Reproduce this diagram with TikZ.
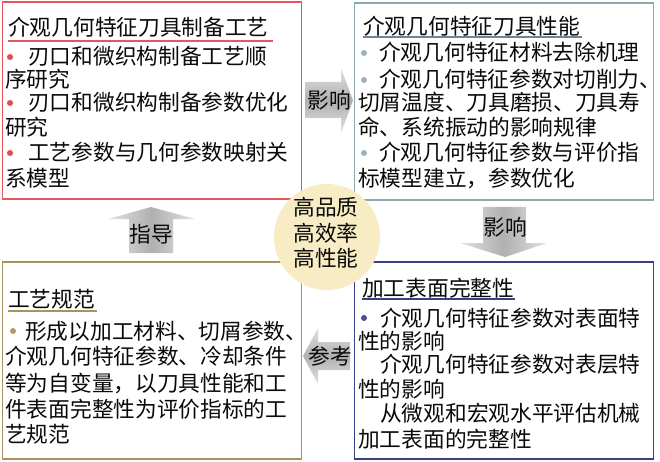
\documentclass[tikz,border=0pt]{standalone}
\usepackage{fontspec}
\newfontfamily\cjk{Noto Sans CJK SC}
\definecolor{cRed}{HTML}{E4575C}
\definecolor{cTeal}{HTML}{8EA9AE}
\definecolor{cTealDark}{HTML}{6C8793}
\definecolor{cTan}{HTML}{A8925E}
\definecolor{cNavy}{HTML}{3B3F86}
\definecolor{bRed}{HTML}{E04C52}
\definecolor{bTeal}{HTML}{9BB3B5}
\definecolor{bTan}{HTML}{B09A68}
\definecolor{bNavy}{HTML}{4C4F96}
\definecolor{cream}{HTML}{F7ECC3}
\definecolor{ink}{HTML}{0A0A0A}
\begin{document}
\begin{tikzpicture}[x=1pt,y=-1pt,
  panel/.style={draw=#1, line width=1.8pt, fill=white, inner sep=0, minimum width=299pt, minimum height=197pt},
  t/.style={anchor=base west, inner sep=0, font=\cjk\fontsize{21.7}{25}\selectfont, text=ink},
  lab/.style={inner sep=0, font=\cjk\fontsize{21.7}{25}\selectfont, text=ink},
  dot/.style={circle, fill=#1, inner sep=0, minimum size=6pt},
  uline/.style={draw=#1, line width=1.8pt},
  harrow/.style={top color=gray!22, bottom color=gray!22, middle color=gray!62},
  varrow/.style={left color=gray!22, right color=gray!22, middle color=gray!62}]
\useasboundingbox (0,0) rectangle (660,462);
\fill[white] (0,0) rectangle (660,462);

% panels
\node[panel=cRed]  (b1) at (152,100.5) {};
\node[panel=cTeal] (b2) at (504,101.5) {};
\node[panel=cTan]  (b3) at (152,360.5) {};
\node[panel=cNavy] (b4) at (504,360.5) {};

% box 1
\node[t] (h1) at (8,36) {介观几何特征刀具制备工艺};
\draw[uline=cRed] (8,41) -- (273,41);
\node[dot=bRed] (d11) at (10,57) {};
\node[t] (l11) at (28,65) {刃口和微织构制备工艺顺};
\node[t] (l12) at (5,88) {序研究};
\node[dot=bRed] (d12) at (10,103) {};
\node[t] (l13) at (28,111) {刃口和微织构制备参数优化};
\node[t] (l14) at (5,136) {研究};
\node[dot=bRed] (d13) at (10,153) {};
\node[t] (l15) at (28,161) {工艺参数与几何参数映射关};
\node[t] (l16) at (5,186) {系模型};

% box 2
\node[t] (h2) at (363,35) {介观几何特征刀具性能};
\draw[uline=cTealDark] (363,37) -- (582,37);
\node[dot=bTeal] (d21) at (364,53) {};
\node[t] (l21) at (379,61) {介观几何特征材料去除机理};
\node[dot=bTeal] (d22) at (364,80) {};
\node[t] (l22) at (379,88) {介观几何特征参数对切削力、};
\node[t] (l23) at (358,111) {切屑温度、刀具磨损、刀具寿};
\node[t] (l24) at (358,136) {命、系统振动的影响规律};
\node[dot=bTeal] (d23) at (364,153) {};
\node[t] (l25) at (379,161) {介观几何特征参数与评价指};
\node[t] (l26) at (358,186) {标模型建立，参数优化};

% box 3
\node[t] (h3) at (8,307) {工艺规范};
\draw[uline=cTan] (8,311) -- (97,311);
\node[dot=bTan] (d31) at (13,331) {};
\node[t] (l31) at (25,339) {形成以加工材料、切屑参数、};
\node[t] (l32) at (5,364) {介观几何特征参数、冷却条件};
\node[t] (l33) at (5,391) {等为自变量，以刀具性能和工};
\node[t] (l34) at (5,417) {件表面完整性为评价指标的工};
\node[t] (l35) at (5,442) {艺规范};

% box 4
\node[t] (h4) at (362,296) {加工表面完整性};
\draw[uline=cNavy] (362,299) -- (515,299);
\node[dot=bNavy] (d41) at (364,318) {};
\node[t] (l41) at (380,326) {介观几何特征参数对表面特};
\node[t] (l42) at (358,349) {性的影响};
\node[t] (l43) at (380,372) {介观几何特征参数对表层特};
\node[t] (l44) at (358,397) {性的影响};
\node[t] (l45) at (380,421) {从微观和宏观水平评估机械};
\node[t] (l46) at (358,447) {加工表面的完整性};

% block arrows
\path[harrow] (305,82) -- (341,82) -- (341,68) -- (353,100.5) -- (341,133) -- (341,118) -- (305,118) -- cycle;
\node[lab] (a1) at (329,100) {影响};
\path[varrow] (483,207) -- (526,207) -- (526,243) -- (547,243) -- (505,257) -- (460,243) -- (483,243) -- cycle;
\node[lab] (a2) at (505,227) {影响};
\path[varrow] (129,253) -- (129,219) -- (108,219) -- (151,207) -- (195,219) -- (173,219) -- (173,253) -- cycle;
\node[lab] (a3) at (151,234) {指导};
\path[harrow] (350,342) -- (318,342) -- (318,328) -- (303,356) -- (318,384) -- (318,370) -- (350,370) -- cycle;
\node[lab] (a4) at (330,356) {参考};

% centre
\node[circle, fill=cream, inner sep=0, minimum size=106pt] (c) at (327,237) {};
\node[lab, align=center, font=\cjk\fontsize{21.7}{25.5}\selectfont] (ct) at (326,233) {高品质\\高效率\\高性能};
\end{tikzpicture}
\end{document}
